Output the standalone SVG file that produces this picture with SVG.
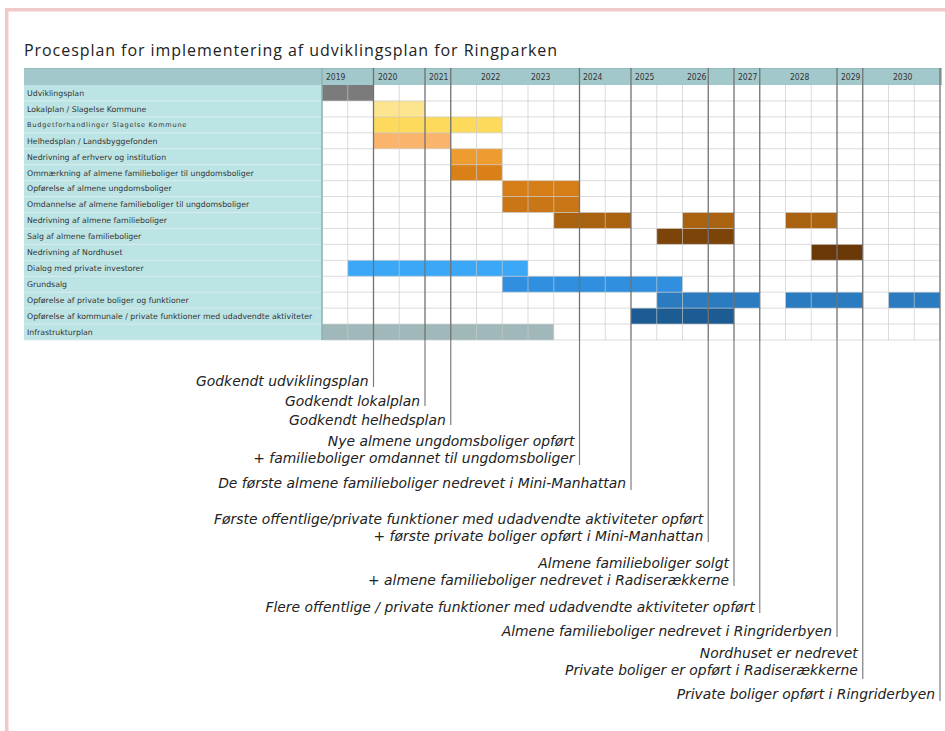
<svg xmlns="http://www.w3.org/2000/svg" width="945" height="731" viewBox="0 0 945 731">
<style>
.title{font-family:"Open Sans","DejaVu Sans",sans-serif;font-size:16px;fill:#222}
.yr{font-family:"DejaVu Sans Condensed","DejaVu Sans",sans-serif;font-size:8.5px;fill:#333}
.lbl{font-family:"DejaVu Sans",sans-serif;font-size:7.8px;fill:#333}
.lbls{font-family:"DejaVu Sans",sans-serif;font-size:6.6px;letter-spacing:0.75px;fill:#333}
.ann{font-family:"DejaVu Sans",sans-serif;font-style:italic;font-size:13.9px;fill:#222;text-anchor:end}
.lc{fill:#bde4e4}
.lsep{stroke:#d9eded;stroke-width:1;fill:none}
.gl{stroke:#c9c9c9;stroke-width:0.9;fill:none}
.dk{stroke:#727272;stroke-width:1.3;fill:none}
.lead{stroke:#7d7d7d;stroke-width:1.2;fill:none}
</style>
<rect x="0" y="0" width="945" height="731" fill="#ffffff"/>
<rect x="5" y="8" width="940" height="3.5" fill="#f1c9c9"/>
<rect x="5" y="8" width="3.5" height="723" fill="#f1c9c9"/>
<text class="title" x="24" y="56" textLength="533" lengthAdjust="spacing">Procesplan for implementering af udviklingsplan for Ringparken</text>

<g id="header">
<rect x="24" y="68" width="918" height="17" fill="#a3c8cb"/>
<line x1="24" y1="68.5" x2="942" y2="68.5" stroke="#93bcbf" stroke-width="1"/>
<text class="yr" x="326" y="80">2019</text>
<text class="yr" x="378" y="80">2020</text>
<text class="yr" x="429" y="80">2021</text>
<text class="yr" x="481" y="80">2022</text>
<text class="yr" x="531" y="80">2023</text>
<text class="yr" x="583" y="80">2024</text>
<text class="yr" x="635" y="80">2025</text>
<text class="yr" x="687" y="80">2026</text>
<text class="yr" x="738" y="80">2027</text>
<text class="yr" x="790" y="80">2028</text>
<text class="yr" x="841" y="80">2029</text>
<text class="yr" x="893" y="80">2030</text>
</g>

<g id="labels">
<rect class="lc" x="24" y="85" width="298" height="255"/>
<path class="lsep" d="M24 100.94H322M24 116.88H322M24 132.81H322M24 148.75H322M24 164.69H322M24 180.63H322M24 196.56H322M24 212.5H322M24 228.44H322M24 244.38H322M24 260.31H322M24 276.25H322M24 292.19H322M24 308.13H322M24 324.06H322M24 340H322"/>
</g>

<g id="row-udviklingsplan"><text class="lbl" x="27" y="95.8">Udviklingsplan</text><rect x="322" y="85" width="51.5" height="15.94" fill="#7b7b7b"/></g>
<g id="row-lokalplan"><text class="lbl" x="27" y="111.7">Lokalplan / Slagelse Kommune</text><rect x="373.5" y="100.94" width="51.5" height="15.94" fill="#fde48f"/></g>
<g id="row-budget"><text class="lbls" x="27" y="127.4">Budgetforhandlinger Slagelse Kommune</text><rect x="373.5" y="116.88" width="128.75" height="15.94" fill="#fdd95c"/></g>
<g id="row-helhedsplan"><text class="lbl" x="27" y="143.6">Helhedsplan / Landsbyggefonden</text><rect x="373.5" y="132.81" width="77.25" height="15.94" fill="#fbb46c"/></g>
<g id="row-nedrivning-erhverv"><text class="lbl" x="27" y="159.5">Nedrivning af erhverv og institution</text><rect x="450.75" y="148.75" width="51.5" height="15.94" fill="#ee9c30"/></g>
<g id="row-ommaerkning"><text class="lbl" x="27" y="175.5">Ommærkning af almene familieboliger til ungdomsboliger</text><rect x="450.75" y="164.69" width="51.5" height="15.94" fill="#da8019"/></g>
<g id="row-opfoerelse-ungdom"><text class="lbl" x="27" y="191.4">Opførelse af almene ungdomsboliger</text><rect x="502.25" y="180.63" width="77.25" height="15.94" fill="#d57d16"/></g>
<g id="row-omdannelse"><text class="lbl" x="27" y="207.4">Omdannelse af almene familieboliger til ungdomsboliger</text><rect x="502.25" y="196.56" width="77.25" height="15.94" fill="#c97616"/></g>
<g id="row-nedrivning-familie"><text class="lbl" x="27" y="223.3">Nedrivning af almene familieboliger</text><rect x="553.75" y="212.5" width="77.25" height="15.94" fill="#a9620f"/><rect x="682.5" y="212.5" width="51.5" height="15.94" fill="#a9620f"/><rect x="785.5" y="212.5" width="51.5" height="15.94" fill="#a9620f"/></g>
<g id="row-salg"><text class="lbl" x="27" y="239.2">Salg af almene familieboliger</text><rect x="656.75" y="228.44" width="77.25" height="15.94" fill="#7c4409"/></g>
<g id="row-nordhuset"><text class="lbl" x="27" y="255.2">Nedrivning af Nordhuset</text><rect x="811.25" y="244.38" width="51.5" height="15.94" fill="#6a3807"/></g>
<g id="row-dialog"><text class="lbl" x="27" y="271.1">Dialog med private investorer</text><rect x="347.75" y="260.31" width="180.25" height="15.94" fill="#3aa8f7"/></g>
<g id="row-grundsalg"><text class="lbl" x="27" y="287.1">Grundsalg</text><rect x="502.25" y="276.25" width="180.25" height="15.94" fill="#3090df"/></g>
<g id="row-private-boliger"><text class="lbl" x="27" y="303">Opførelse af private boliger og funktioner</text><rect x="656.75" y="292.19" width="103" height="15.94" fill="#2a7bc0"/><rect x="785.5" y="292.19" width="77.25" height="15.94" fill="#2a7bc0"/><rect x="888.5" y="292.19" width="51.5" height="15.94" fill="#2a7bc0"/></g>
<g id="row-kommunale"><text class="lbl" x="27" y="318.9">Opførelse af kommunale / private funktioner med udadvendte aktiviteter</text><rect x="631" y="308.13" width="103" height="15.94" fill="#1c5c93"/></g>
<g id="row-infrastruktur"><text class="lbl" x="27" y="334.9">Infrastrukturplan</text><rect x="322" y="324.06" width="231.75" height="15.94" fill="#a0b8b9"/></g>

<g id="grid">
<path class="gl" opacity="0.75" d="M322 100.94H940M322 116.88H940M322 132.81H940M322 148.75H940M322 164.69H940M322 180.63H940M322 196.56H940M322 212.5H940M322 228.44H940M322 244.38H940M322 260.31H940M322 276.25H940M322 292.19H940M322 308.13H940M322 324.06H940M322 340H940"/>
<path class="gl" opacity="0.75" d="M347.75 85V340M399.25 85V340M476.5 85V340M502.25 85V340M528 85V340M553.75 85V340M605.25 85V340M656.75 85V340M682.5 85V340M785.5 85V340M811.25 85V340M888.5 85V340M914.25 85V340"/>
<path class="dk" d="M373.5 68V340M425 68V340M450.75 68V340M579.5 68V340M631 68V340M708.25 68V340M734 68V340M759.75 68V340M837 68V340M862.75 68V340M940 68V340"/>
<line x1="322" y1="68" x2="322" y2="340" stroke="#8eb0b2" stroke-width="1.5"/>
</g>

<g id="connectors">
<path class="lead" d="M373.5 340V387"/>
<path class="lead" d="M425 340V406"/>
<path class="lead" d="M450.75 340V425"/>
<path class="lead" d="M579.5 340V465"/>
<path class="lead" d="M631 340V490"/>
<path class="lead" d="M708.25 340V542"/>
<path class="lead" d="M734 340V586"/>
<path class="lead" d="M759.75 340V613"/>
<path class="lead" d="M837 340V637"/>
<path class="lead" d="M862.75 340V679"/>
<path class="lead" d="M940 340V701"/>
</g>

<g id="ann-udviklingsplan"><text class="ann" x="368.5" y="386">Godkendt udviklingsplan</text></g>
<g id="ann-lokalplan"><text class="ann" x="420" y="405.5">Godkendt lokalplan</text></g>
<g id="ann-helhedsplan"><text class="ann" x="445.75" y="424.5">Godkendt helhedsplan</text></g>
<g id="ann-ungdomsboliger"><text class="ann" x="574.5" y="445.5">Nye almene ungdomsboliger opført</text><text class="ann" x="574.5" y="463">+ familieboliger omdannet til ungdomsboliger</text></g>
<g id="ann-mini-manhattan"><text class="ann" x="626" y="488">De første almene familieboliger nedrevet i Mini-Manhattan</text></g>
<g id="ann-foerste-funktioner"><text class="ann" x="703.25" y="523.5">Første offentlige/private funktioner med udadvendte aktiviteter opført</text><text class="ann" x="703.25" y="540.5">+ første private boliger opført i Mini-Manhattan</text></g>
<g id="ann-solgt"><text class="ann" x="729" y="567.5">Almene familieboliger solgt</text><text class="ann" x="729" y="584.5">+ almene familieboliger nedrevet i Radiserækkerne</text></g>
<g id="ann-flere-funktioner"><text class="ann" x="754.75" y="611.5">Flere offentlige / private funktioner med udadvendte aktiviteter opført</text></g>
<g id="ann-ringriderbyen-nedrevet"><text class="ann" x="832" y="636">Almene familieboliger nedrevet i Ringriderbyen</text></g>
<g id="ann-nordhuset"><text class="ann" x="857.75" y="657.5">Nordhuset er nedrevet</text><text class="ann" x="857.75" y="675">Private boliger er opført i Radiserækkerne</text></g>
<g id="ann-ringriderbyen-opfoert"><text class="ann" x="935" y="698.5">Private boliger opført i Ringriderbyen</text></g>
</svg>
